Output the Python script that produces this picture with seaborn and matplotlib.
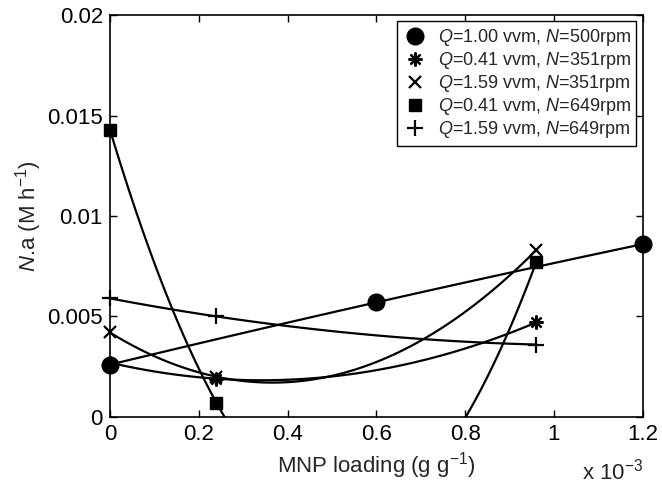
import numpy as np
import matplotlib
matplotlib.use('Agg')
import matplotlib.pyplot as plt
import seaborn as sns
from matplotlib.ticker import FixedLocator, FixedFormatter

# MNP loading in units of 1e-3 g/g
x_three = [0.0, 0.6, 1.2]
x_sets = [0.0, 0.24, 0.96]

y_q100_n500 = [0.0026, 0.0057, 0.0086]
y_q041_n351 = [0.0027, 0.0019, 0.0047]
y_q159_n351 = [0.0042, 0.0020, 0.0083]
y_q041_n649 = [0.0143, 0.0007, 0.0077]
y_q159_n649 = [0.0059, 0.0050, 0.0036]

labels = ['$Q$=1.00 vvm, $N$=500rpm',
          '$Q$=0.41 vvm, $N$=351rpm',
          '$Q$=1.59 vvm, $N$=351rpm',
          '$Q$=0.41 vvm, $N$=649rpm',
          '$Q$=1.59 vvm, $N$=649rpm']

xticks = [0, 0.2, 0.4, 0.6, 0.8, 1.0, 1.2]
xticklabels = ['0', '0.2', '0.4', '0.6', '0.8', '1', '1.2']
yticks = [0, 0.005, 0.01, 0.015, 0.02]
yticklabels = ['0', '0.005', '0.01', '0.015', '0.02']

sns.set_style('ticks')
plt.rcParams['font.family'] = ['Liberation Sans', 'DejaVu Sans']
plt.rcParams['mathtext.fontset'] = 'custom'
plt.rcParams['mathtext.rm'] = 'Liberation Sans'
plt.rcParams['mathtext.it'] = 'Liberation Sans:italic'

fig = plt.figure(figsize=(6.62, 4.87), dpi=100)
ax = fig.add_axes([0.166, 0.144, 0.805, 0.825])

series = [
    (x_three, y_q100_n500, dict(marker='o', ms=12)),
    (x_sets, y_q041_n351, dict(marker=(8, 2, 0), ms=10, mew=1.6)),
    (x_sets, y_q159_n351, dict(marker='x', ms=8, mew=1.6)),
    (x_sets, y_q041_n649, dict(marker='s', ms=9)),
    (x_sets, y_q159_n649, dict(marker='+', ms=11, mew=1.6)),
]

# quadratic trend lines
for xs, ys, _ in series:
    sns.regplot(x=np.array(xs), y=np.array(ys), order=2, ci=None, scatter=False,
                truncate=True, color='k', line_kws=dict(lw=1.6), ax=ax)

for (xs, ys, mk), lab in zip(series, labels):
    ax.plot(xs, ys, linestyle='none', color='k', mfc='k', mec='k', label=lab,
            zorder=5, clip_on=False, **mk)

ax.set_xlim(0, 1.2)
ax.set_ylim(0, 0.02)
ax.xaxis.set_major_locator(FixedLocator(xticks))
ax.xaxis.set_major_formatter(FixedFormatter(xticklabels))
ax.yaxis.set_major_locator(FixedLocator(yticks))
ax.yaxis.set_major_formatter(FixedFormatter(yticklabels))
ax.tick_params(direction='in', top=True, right=True, length=5, width=1,
               labelsize=16, colors='k', pad=5)
for s in ax.spines.values():
    s.set_color('k')
    s.set_linewidth(1.2)

ax.set_xlabel('MNP loading (g g$^{-1}$)', fontsize=16, labelpad=4)
ax.set_ylabel('$N$.a (M h$^{-1}$)', fontsize=16, labelpad=2)
ax.text(1.0, -0.155, 'x 10$^{-3}$', transform=ax.transAxes, ha='right',
        va='baseline', fontsize=16)

leg = ax.legend(loc='upper right', fontsize=13, frameon=True, fancybox=False,
                edgecolor='k', framealpha=1, handlelength=1.4, handletextpad=0.6,
                borderpad=0.3, labelspacing=0.12, borderaxespad=0.35)
leg.set_zorder(10)
leg.get_frame().set_linewidth(1.0)

fig.savefig('out.png', dpi=100)
